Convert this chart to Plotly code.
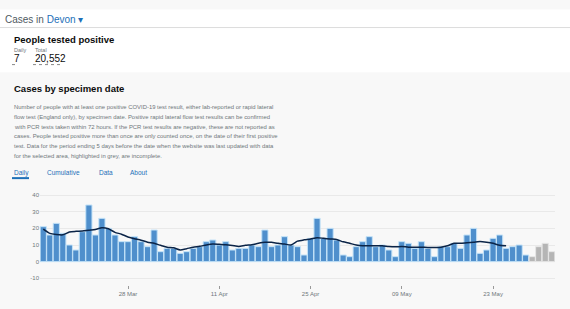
import plotly.graph_objects as go
import pandas as pd

# ---- data ----
start_date = "2021-03-15"
daily_cases = [21, 16, 23, 17, 10, 7, 18, 34, 16, 26, 20, 16, 12, 12, 15, 12, 9, 19, 6, 8,
               8, 5, 6, 8, 9, 12, 13, 10, 12, 7, 8, 8, 10, 9, 19, 9, 10, 15, 10, 9,
               4, 14, 26, 14, 20, 13, 4, 3, 9, 12, 15, 9, 10, 7, 3, 12, 11, 8, 12, 8,
               3, 9, 9, 11, 8, 16, 20, 5, 7, 14, 16, 8, 9, 10, 4, 3, 9, 11, 6]
incomplete_days = 4
rolling_avg = [19.5, 17, 16.3, 16.1, 17.8, 18.2, 18.4, 18.9, 19.3, 20.3,
               19.7, 17.6, 16.5, 14.8, 13.8, 12.9, 11.7, 11, 9.8, 8.7,
               8.3, 7, 7.8, 8.7, 9.2, 10, 10.6, 10.4, 10.2, 9.7,
               9.1, 9.8, 10.2, 11, 11.6, 11.6, 11, 10.6, 10, 12.3,
               13.1, 13.6, 14.4, 14, 13.6, 13.3, 11.9, 11, 10, 9.5,
               9.5, 9.5, 9.6, 9.1, 8.9, 9.1, 8.7, 8.7, 8.7, 8.5,
               8.5, 8.7, 9.5, 11, 11, 11.4, 11.7, 12.1, 11.7, 11,
               9.8, 9.5]
x_tick_dates = ["2021-03-28", "2021-04-11", "2021-04-25", "2021-05-09", "2021-05-23"]
x_tick_labels = ["28 Mar", "11 Apr", "25 Apr", "09 May", "23 May"]
y_tick_vals = [-10, 0, 10, 20, 30, 40]
y_tick_labels = ["-10", "0", "10", "20", "30", "40"]
tabs = ["Daily", "Cumulative", "Data", "About"]
paragraph = [
    "Number of people with at least one positive COVID-19 test result, either lab-reported or rapid lateral",
    "flow test (England only), by specimen date. Positive rapid lateral flow test results can be confirmed",
    "with PCR tests taken within 72 hours. If the PCR test results are negative, these are not reported as",
    "cases. People tested positive more than once are only counted once, on the date of their first positive",
    "test. Data for the period ending 5 days before the date when the website was last updated with data",
    "for the selected area, highlighted in grey, are incomplete.",
]

dates = pd.date_range(start_date, periods=len(daily_cases), freq="D")
n_complete = len(daily_cases) - incomplete_days

W, H = 570, 309
ML, MR, MT, MB = 40, 15, 190, 19
PW, PH = W - ML - MR, H - MT - MB

def px(x):
    return (x - ML) / PW

def py(y):
    return (H - MB - y) / PH

FONT = "Liberation Sans, Arial, sans-serif"
BLUE = "#1d70b8"
GREY = "#6f777b"
DARK = "#0b0c0c"

fig = go.Figure()
fig.add_trace(go.Bar(
    x=dates[:n_complete], y=daily_cases[:n_complete],
    marker=dict(color="#4f8fcc", line=dict(color="#c4e3f8", width=1)),
    hoverinfo="skip", showlegend=False,
))
fig.add_trace(go.Bar(
    x=dates[n_complete:], y=daily_cases[n_complete:],
    marker=dict(color="#b5b5b5", line=dict(color="#e6e6e6", width=1)),
    hoverinfo="skip", showlegend=False,
))
fig.add_trace(go.Scatter(
    x=dates[:len(rolling_avg)], y=rolling_avg, mode="lines",
    line=dict(color="#0b2447", width=1.5, shape="spline", smoothing=0.6),
    hoverinfo="skip", showlegend=False,
))

shapes = [
    dict(type="rect", xref="paper", yref="paper", x0=px(0), x1=px(W), y0=py(66), y1=py(0),
         fillcolor="white", line=dict(width=0), layer="below"),
    dict(type="line", xref="paper", yref="paper", x0=px(0), x1=px(W), y0=py(19), y1=py(19),
         line=dict(color="#dcdcdc", width=1)),
    dict(type="line", xref="paper", yref="paper", x0=px(12), x1=px(17), y0=py(58), y1=py(58),
         line=dict(color="#888", width=1, dash="dot")),
    dict(type="line", xref="paper", yref="paper", x0=px(33), x1=px(63), y0=py(58), y1=py(58),
         line=dict(color="#888", width=1, dash="dot")),
    dict(type="line", xref="paper", yref="paper", x0=px(12), x1=px(29), y0=py(177.5), y1=py(177.5),
         line=dict(color=BLUE, width=2)),
]

ann = []
def text(x, y, s, size, color, bold=False, anchor="left"):
    ann.append(dict(x=px(x), y=py(y), xref="paper", yref="paper", text=f"<b>{s}</b>" if bold else s,
                    showarrow=False, xanchor=anchor, yanchor="middle",
                    font=dict(family=FONT, size=size, color=color)))

text(3, 10, "Cases in <span style='color:#1d70b8'>Devon ▾</span>", 10, "#505a5f")
text(12, 32, "People tested positive", 9.5, DARK, bold=True)
text(12, 43, "Daily", 5.5, GREY)
text(33, 43, "Total", 5.5, GREY)
text(12, 52, "7", 10, DARK)
text(33, 52, "20,552", 10, DARK)
text(12, 83, "Cases by specimen date", 9.5, DARK, bold=True)
for i, line in enumerate(paragraph):
    text(12, 103 + i * 10.2, line, 5.9, GREY)
tab_x = [12, 45, 97, 128]
for tx, t in zip(tab_x, tabs):
    text(tx, 172, t, 6.5, BLUE)

fig.update_layout(
    width=W, height=H,
    margin=dict(l=ML, r=MR, t=MT, b=MB),
    paper_bgcolor="#f8f8f8", plot_bgcolor="#f8f8f8",
    bargap=0.05,
    barmode="overlay",
    shapes=shapes, annotations=ann,
    font=dict(family=FONT, size=6, color="#6f777b"),
    xaxis=dict(
        type="date",
        range=[dates[0] - pd.Timedelta(hours=12), dates[-1] + pd.Timedelta(hours=12)],
        tickvals=x_tick_dates, ticktext=x_tick_labels,
        ticks="outside", ticklen=3, tickcolor="#999",
        showgrid=False, zeroline=False, showline=False,
        tickfont=dict(size=6, color="#6f777b"),
    ),
    yaxis=dict(
        range=[-14, 43],
        tickvals=y_tick_vals, ticktext=y_tick_labels,
        showgrid=True, gridcolor="#e9e9e9", gridwidth=1,
        zeroline=False, showline=False,
        tickfont=dict(size=6, color="#6f777b"),
    ),
)

fig.write_html("out.html")
